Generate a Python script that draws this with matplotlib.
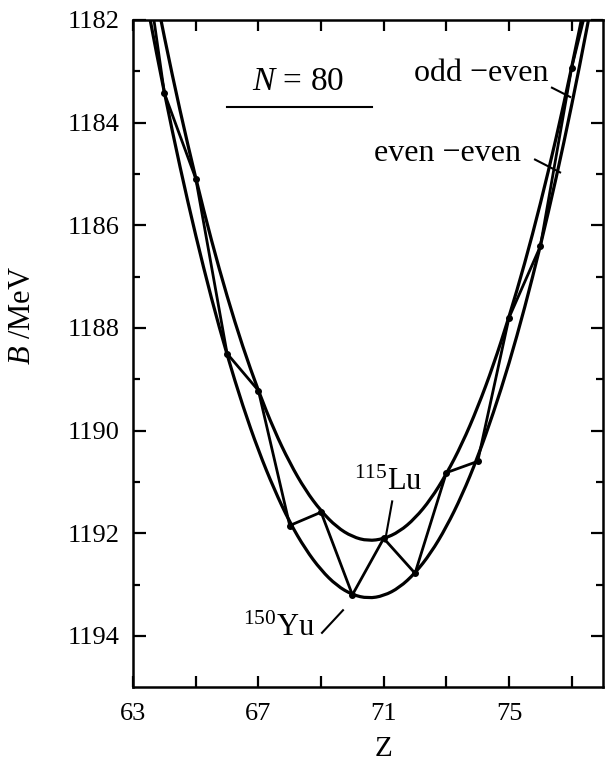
import numpy as np
import matplotlib
matplotlib.use('Agg')
import matplotlib.pyplot as plt
from matplotlib.path import Path
from matplotlib.patches import PathPatch

plt.rcParams['font.family'] = ['Liberation Serif', 'DejaVu Serif']
plt.rcParams['mathtext.fontset'] = 'custom'
plt.rcParams['mathtext.rm'] = 'Liberation Serif'
plt.rcParams['mathtext.it'] = 'Liberation Serif:italic'

# curves (Z, B in MeV), N = 80
z_curve = [63.0, 63.5, 64.0, 64.5, 65.0, 65.5, 66.0, 66.5, 67.0, 67.5, 68.0,
           68.5, 69.0, 69.5, 70.0, 70.5, 71.0, 71.5, 72.0, 72.5, 73.0, 73.5,
           74.0, 74.5, 75.0, 75.5, 76.0, 76.5, 77.0, 77.5, 78.0]
b_odd_even = [1179.15, 1180.81, 1182.35, 1183.78, 1185.09, 1186.30, 1187.39,
              1188.37, 1189.23, 1189.99, 1190.63, 1191.16, 1191.57, 1191.88,
              1192.07, 1192.15, 1192.11, 1191.97, 1191.71, 1191.34, 1190.85,
              1190.26, 1189.55, 1188.73, 1187.79, 1186.75, 1185.59, 1184.32,
              1182.93, 1181.44, 1179.83]
b_even_even = [1180.19, 1181.87, 1183.43, 1184.88, 1186.21, 1187.43, 1188.53,
               1189.52, 1190.39, 1191.14, 1191.79, 1192.31, 1192.72, 1193.02,
               1193.20, 1193.27, 1193.22, 1193.06, 1192.78, 1192.39, 1191.88,
               1191.26, 1190.52, 1189.66, 1188.70, 1187.61, 1186.41, 1185.10,
               1183.67, 1182.13, 1180.47]

# nuclei, alternating between the two curves
z_nuc = [63, 64, 65, 66, 67, 68, 69, 70, 71, 72, 73, 74, 75, 76, 77, 78]
b_nuc = [1179.15, 1183.43, 1185.09, 1188.50, 1189.22, 1191.85, 1191.59, 1193.20,
         1192.10, 1192.78, 1190.82, 1190.60, 1187.80, 1186.41, 1182.93, 1180.47]


def smooth_curve(ax, xs, ys, **kw):
    # quadratic bezier through segment midpoints, read points as controls
    pts = np.column_stack([xs, ys])
    mids = (pts[:-1] + pts[1:]) / 2
    verts = [pts[0], mids[0]]
    codes = [Path.MOVETO, Path.LINETO]
    for i in range(1, len(pts) - 1):
        verts += [pts[i], mids[i]]
        codes += [Path.CURVE3, Path.CURVE3]
    verts.append(pts[-1])
    codes.append(Path.LINETO)
    ax.add_patch(PathPatch(Path(verts, codes), fill=False, **kw))


fig = plt.figure(figsize=(6.05, 7.67), dpi=100)
ax = fig.add_axes([0.22, 0.104, 0.7767, 0.870])

smooth_curve(ax, z_curve, b_odd_even, color='black', lw=2.3)
smooth_curve(ax, z_curve, b_even_even, color='black', lw=2.3)
ax.plot(z_nuc, b_nuc, color='black', lw=2.0, marker='o', ms=4)

ax.set_xlim(63, 78)
ax.set_ylim(1195, 1182)

ax.set_xticks(np.arange(63, 78, 2))
ax.set_xticklabels(['63', '', '67', '', '71', '', '75', ''])
ax.set_yticks(np.arange(1182, 1195, 2))
ax.set_yticks(np.arange(1183, 1195, 2), minor=True)
ax.tick_params(which='both', direction='in', top=True, right=True,
               labelsize=19, width=1.6)
ax.tick_params(axis='x', which='major', length=8, pad=11)
ax.tick_params(axis='y', which='major', length=9, pad=10)
ax.tick_params(axis='y', which='minor', length=5)
for s in ax.spines.values():
    s.set_linewidth(1.8)

fig.text(23 / 605, 1 - 315 / 767, '$B$ /MeV', rotation=90, fontsize=22,
         ha='center', va='center')
fig.text(384 / 605, 1 - 749 / 767, 'Z', fontsize=21, ha='center', va='center')

# labels
ax.text(68.27, 1183.2, '$N$ = 80', fontsize=24, ha='center', va='center')
ax.plot([66.0, 70.63], [1183.69, 1183.69], color='black', lw=1.5)

ax.text(74.1, 1183.05, 'odd \u2212even', fontsize=23, ha='center', va='center')
ax.plot([76.37, 76.95], [1183.32, 1183.5], color='black', lw=1.5)
ax.text(73.05, 1184.6, 'even \u2212even', fontsize=23, ha='center', va='center')
ax.plot([75.83, 76.63], [1184.72, 1184.97], color='black', lw=1.5)

ax.text(71.14, 1191.0, '$^{115}$Lu', fontsize=22, ha='center', va='center')
ax.plot([71.27, 71.04], [1191.38, 1192.16], color='black', lw=1.5)
ax.text(67.66, 1193.85, '$^{150}$Yu', fontsize=22, ha='center', va='center')
ax.plot([69.03, 69.7], [1193.94, 1193.5], color='black', lw=1.5)

fig.savefig('out.png', dpi=100)
